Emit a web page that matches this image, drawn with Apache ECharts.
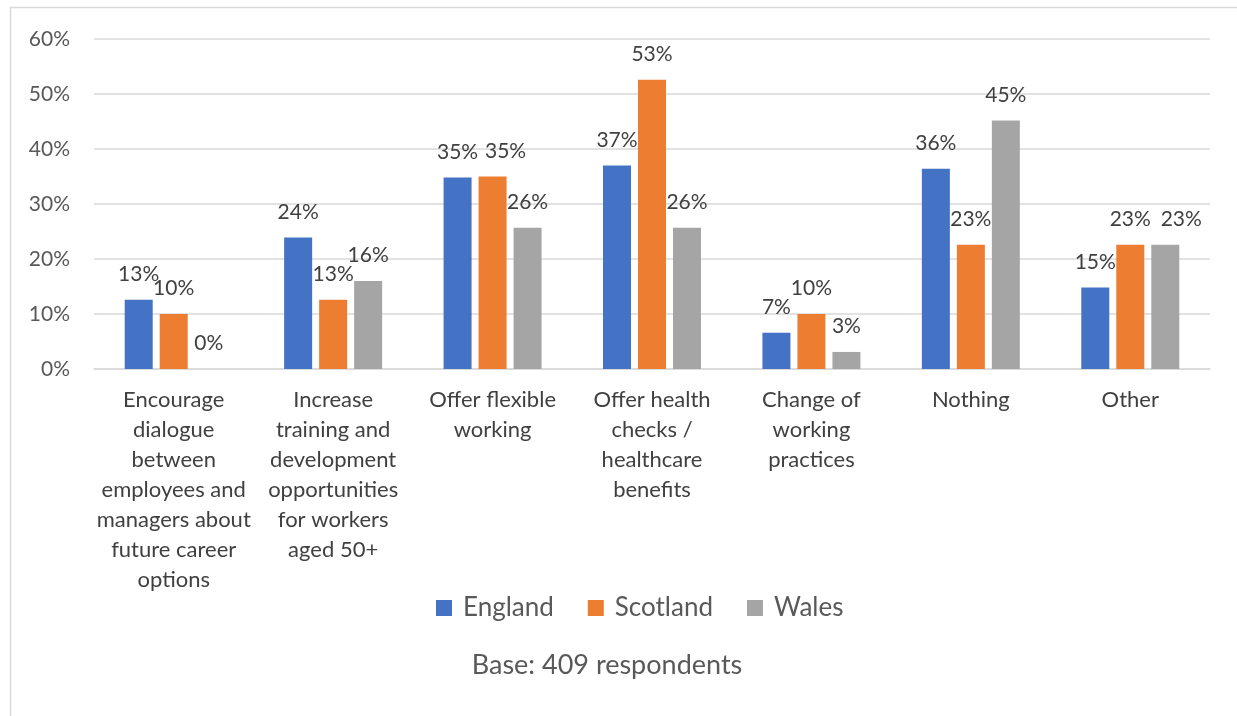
<!DOCTYPE html>
<html>
<head>
<meta charset="utf-8">
<script src="https://cdn.jsdelivr.net/npm/echarts@6/dist/echarts.min.js"></script>
<style>html,body{margin:0;padding:0;background:#fff}#c{width:1237px;height:716px}</style>
</head>
<body>
<div id="c"></div>
<script>
const categories = [
  "Encourage\ndialogue\nbetween\nemployees and\nmanagers about\nfuture career\noptions",
  "Increase\ntraining and\ndevelopment\nopportunities\nfor workers\naged 50+",
  "Offer flexible\nworking",
  "Offer health\nchecks /\nhealthcare\nbenefits",
  "Change of\nworking\npractices",
  "Nothing",
  "Other"
];
const england = [12.6, 23.9, 34.8, 37.0, 6.6, 36.4, 14.8];
const scotland = [10.0, 12.6, 35.0, 52.6, 10.0, 22.6, 22.6];
const wales = [0, 16.0, 25.7, 25.7, 3.1, 45.2, 22.6];
const yTicks = [0, 10, 20, 30, 40, 50, 60];
const baseNote = "Base: 409 respondents";

const FONT = "Lato, 'Open Sans', sans-serif";
const chart = echarts.init(document.getElementById('c'));
// horizontal nudges of overlapping labels, as in the original (index -> px)
function mk(name, data, color, nudges) {
  return {
    name, type: 'bar', barWidth: 28, barGap: '25%',
    data: data.map((v, i) => nudges && nudges[i] ? { value: v, label: { offset: [nudges[i], 0] } } : v),
    itemStyle: { color },
    label: {
      show: true, position: 'top', distance: 15,
      formatter: p => Math.round(p.value) + '%',
      color: '#404040', fontSize: 21, fontFamily: FONT
    }
  };
}
chart.setOption({
  animation: false,
  graphic: [{
    type: 'rect', left: 8, top: 5,
    shape: { width: 1300, height: 800 },
    style: { fill: 'none', stroke: '#d9d9d9', lineWidth: 1.5 }
  }, {
    type: 'text', x: 607, y: 665,
    style: {
      text: baseNote, align: 'center', verticalAlign: 'middle',
      fill: '#595959', fontSize: 27, fontFamily: FONT
    }
  }],
  legend: {
    left: 431, top: 590, itemWidth: 16, itemHeight: 16, itemGap: 34,
    icon: 'rect',
    textStyle: { color: '#595959', fontSize: 26, fontFamily: FONT, padding: [0, 0, 0, 6] },
    data: ['England', 'Scotland', 'Wales']
  },
  grid: { left: 94, right: 27, top: 39, bottom: 347 },
  xAxis: {
    type: 'category', data: categories,
    axisLine: { lineStyle: { color: '#d9d9d9', width: 1.5 } },
    axisTick: { show: false },
    axisLabel: {
      interval: 0, margin: 16, lineHeight: 30, color: '#404040',
      fontSize: 22, fontFamily: FONT
    }
  },
  yAxis: {
    type: 'value', min: yTicks[0], max: yTicks[yTicks.length - 1], interval: 10,
    axisLine: { show: false }, axisTick: { show: false },
    splitLine: { lineStyle: { color: '#d9d9d9', width: 1.5 } },
    axisLabel: { formatter: v => v + '%', margin: 24, color: '#595959', fontSize: 21, fontFamily: FONT }
  },
  series: [
    mk('England', england, '#4472C4'),
    mk('Scotland', scotland, '#ED7D31', { 2: 13 }),
    mk('Wales', wales, '#A5A5A5', { 6: 16 })
  ]
});
</script>
</body>
</html>
